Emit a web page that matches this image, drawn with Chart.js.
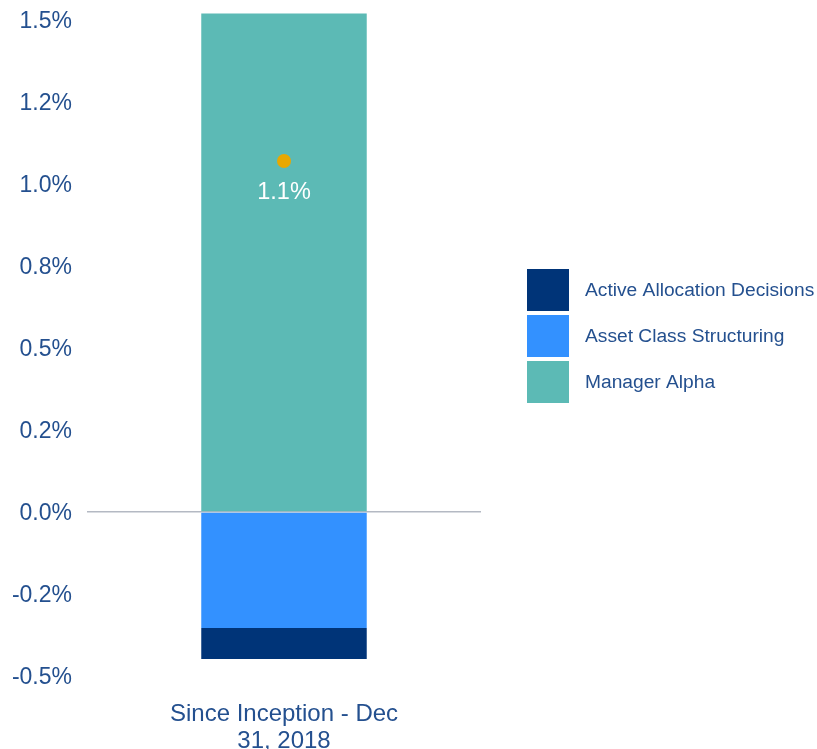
<!DOCTYPE html>
<html>
<head>
<meta charset="utf-8">
<script src="https://cdn.jsdelivr.net/npm/chart.js@4.4.1/dist/chart.umd.min.js"></script>
<style>
  html, body { margin: 0; padding: 0; background: #ffffff; }
  #wrap { width: 817px; height: 749px; position: relative; }
</style>
</head>
<body>
<div id="wrap"><canvas id="c" width="817" height="749"></canvas></div>
<script>
// ---- data ----
const categories = [['Since Inception - Dec', '31, 2018']];
const managerAlpha = [1.52];
const assetClassStructuring = [-0.354];
const activeAllocationDecisions = [-0.094];
const totalValue = [1.07];
const totalLabels = ['1.1%'];
const yTickValues = [-0.5, -0.25, 0, 0.25, 0.5, 0.75, 1.0, 1.25, 1.5];
const yTickLabels = ['-0.5%', '-0.2%', '0.0%', '0.2%', '0.5%', '0.8%', '1.0%', '1.2%', '1.5%'];

const textColor = '#24508f';
const fontFamily = '"Liberation Sans", Arial, sans-serif';

const totalLabelPlugin = {
  id: 'totalLabel',
  afterDatasetsDraw(chart) {
    const idx = chart.data.datasets.findIndex(d => d.isTotal);
    if (idx < 0) return;
    const meta = chart.getDatasetMeta(idx);
    const ctx = chart.ctx;
    ctx.save();
    ctx.fillStyle = '#ffffff';
    ctx.font = '23.5px ' + fontFamily;
    ctx.textAlign = 'center';
    ctx.textBaseline = 'middle';
    meta.data.forEach((pt, i) => {
      ctx.fillText(totalLabels[i], pt.x, pt.y + 31);
    });
    ctx.restore();
  }
};

// legend drawn with the chart's own dataset labels and colours
const sideLegendPlugin = {
  id: 'sideLegend',
  afterDraw(chart) {
    const ctx = chart.ctx;
    const area = chart.chartArea;
    const items = chart.data.datasets.filter(d => !d.isTotal).slice().reverse();
    const box = 42, gap = 4;
    const x0 = area.right + 46;
    let y = area.top + 249;
    ctx.save();
    ctx.font = '19.2px ' + fontFamily;
    ctx.textBaseline = 'middle';
    ctx.textAlign = 'left';
    items.forEach(d => {
      ctx.fillStyle = d.backgroundColor;
      ctx.fillRect(x0, y, box, box);
      ctx.fillStyle = textColor;
      ctx.fillText(d.label, x0 + box + 16, y + box / 2 + 1);
      y += box + gap;
    });
    ctx.restore();
  }
};

new Chart(document.getElementById('c'), {
  data: {
    labels: categories,
    datasets: [
      {
        type: 'line',
        label: 'Total',
        isTotal: true,
        data: totalValue,
        showLine: false,
        pointRadius: 7,
        pointHoverRadius: 7,
        pointBackgroundColor: '#e8a800',
        pointBorderWidth: 0,
        borderColor: '#e8a800',
        stack: 'total',
        order: -1
      },
      {
        type: 'bar',
        label: 'Manager Alpha',
        data: managerAlpha,
        backgroundColor: '#5cbab5',
        stack: 'bars',
        clip: false,
        barPercentage: 0.42,
        categoryPercentage: 1.0
      },
      {
        type: 'bar',
        label: 'Asset Class Structuring',
        data: assetClassStructuring,
        backgroundColor: '#3391ff',
        stack: 'bars',
        clip: false,
        barPercentage: 0.42,
        categoryPercentage: 1.0
      },
      {
        type: 'bar',
        label: 'Active Allocation Decisions',
        data: activeAllocationDecisions,
        backgroundColor: '#003478',
        stack: 'bars',
        clip: false,
        barPercentage: 0.42,
        categoryPercentage: 1.0
      }
    ]
  },
  options: {
    responsive: false,
    animation: false,
    layout: { padding: { top: 20, right: 336, bottom: 0, left: 12 } },
    plugins: {
      tooltip: { enabled: false },
      legend: { display: false }
    },
    scales: {
      x: {
        stacked: true,
        grid: { display: false, drawTicks: false },
        border: { display: false },
        afterFit: (s) => { s.height = 73; s.paddingLeft = 0; s.paddingRight = 0; },
        ticks: {
          color: textColor,
          font: { family: fontFamily, size: 24, lineHeight: 1.13 },
          padding: 25,
          maxRotation: 0
        }
      },
      y: {
        stacked: true,
        min: -0.5,
        max: 1.5,
        afterBuildTicks: (scale) => {
          scale.ticks = yTickValues.map(v => ({ value: v }));
        },
        afterFit: (s) => { s.width = 75; s.paddingTop = 0; s.paddingBottom = 0; },
        grid: {
          drawTicks: false,
          color: (ctx) => (ctx.tick && ctx.tick.value === 0) ? '#b4b9c3' : 'rgba(0,0,0,0)',
          lineWidth: 1.5
        },
        border: { display: false },
        ticks: {
          color: textColor,
          font: { family: fontFamily, size: 23 },
          padding: 15,
          labelOffset: 2,
          callback: (value) => {
            const i = yTickValues.indexOf(value);
            return i >= 0 ? yTickLabels[i] : '';
          }
        }
      }
    }
  },
  plugins: [totalLabelPlugin, sideLegendPlugin]
});
</script>
</body>
</html>
